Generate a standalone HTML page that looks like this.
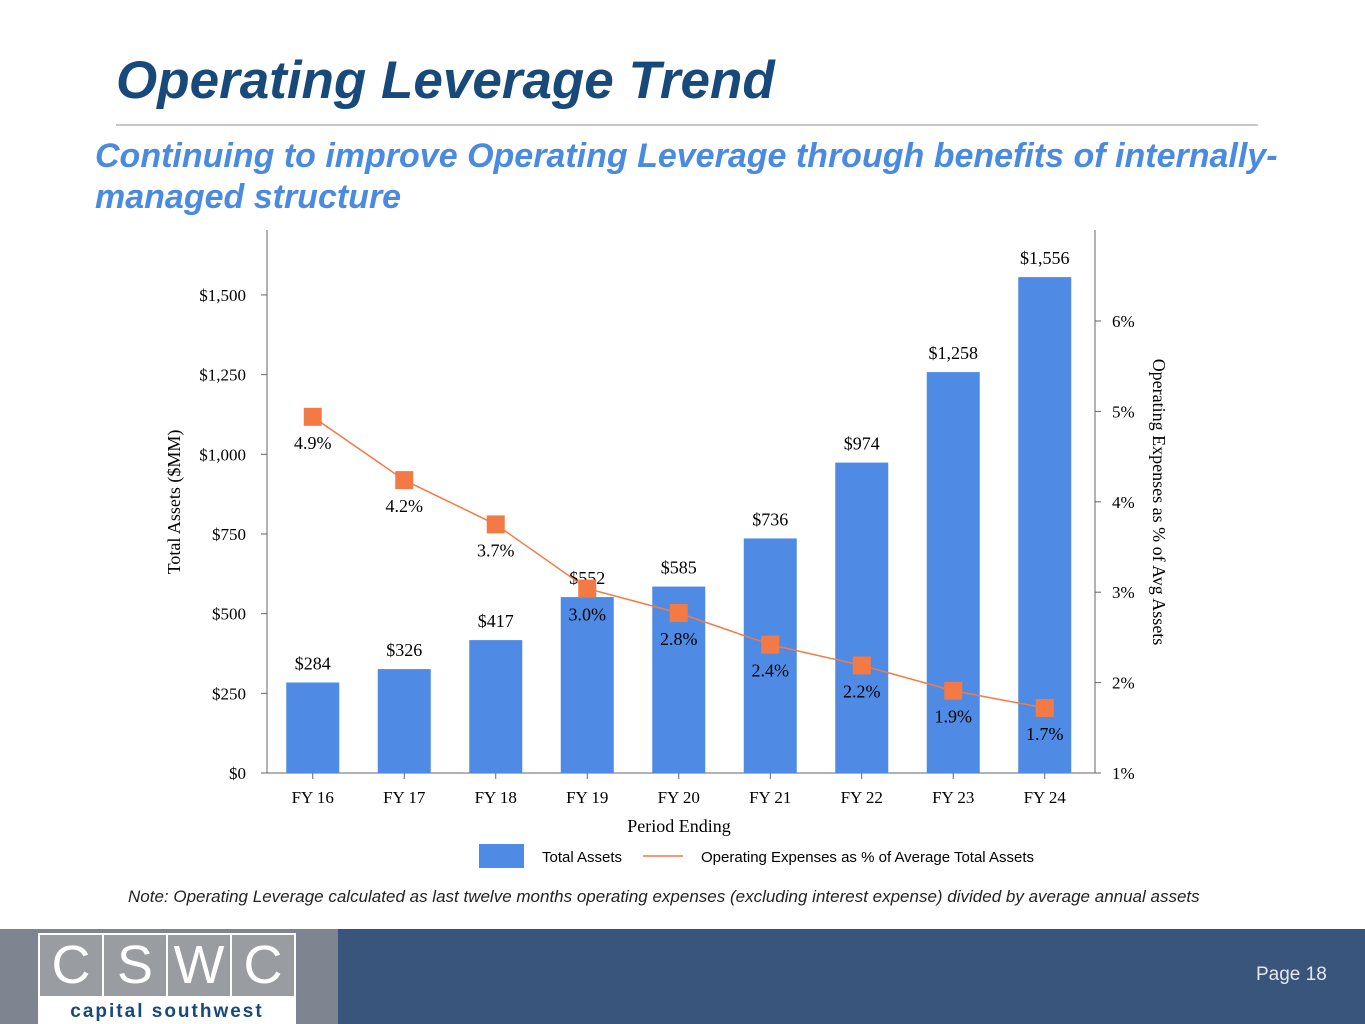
<!DOCTYPE html>
<html><head><meta charset="utf-8"><style>
body{margin:0;width:1365px;height:1024px;position:relative;background:#fff;overflow:hidden;font-family:"Liberation Sans",sans-serif}
.abs{position:absolute}
</style></head><body>
<div class="abs" style="left:116px;top:50px;font-size:53px;font-weight:bold;font-style:italic;color:#17497a">Operating Leverage Trend</div>
<div class="abs" style="left:116px;top:124px;width:1142px;height:2px;background:#c8c8c8"></div>
<div class="abs" style="left:95px;top:136px;font-size:34px;line-height:41px;font-weight:bold;font-style:italic;color:#4a8be0;white-space:nowrap">Continuing to improve Operating Leverage through benefits of internally-<br>managed structure</div>
<svg class="abs" style="left:0;top:0" width="1365" height="920" id="chart" font-family="Liberation Serif, serif"></svg>
<div class="abs" style="left:128px;top:887px;font-size:17px;font-style:italic;color:#222;white-space:nowrap">Note: Operating Leverage calculated as last twelve months operating expenses (excluding interest expense) divided by average annual assets</div>
<div class="abs" style="left:0;top:929px;width:338px;height:95px;background:#7f8590"></div>
<div class="abs" style="left:338px;top:929px;width:1027px;height:95px;background:#3a557c"></div>
<div class="abs" style="left:38px;top:933px;width:258px;height:91px;background:#fff">
 <div style="display:flex;gap:2px;padding:2px;height:61px">
  <div style="flex:1;background:#999ca1;color:#fff;font-size:54px;text-align:center;line-height:61px">C</div>
  <div style="flex:1;background:#999ca1;color:#fff;font-size:54px;text-align:center;line-height:61px">S</div>
  <div style="flex:1;background:#999ca1;color:#fff;font-size:54px;text-align:center;line-height:61px">W</div>
  <div style="flex:1;background:#999ca1;color:#fff;font-size:54px;text-align:center;line-height:61px">C</div>
 </div>
 <div style="text-align:center;color:#17497a;font-size:19px;letter-spacing:2px;font-weight:bold;margin-top:3px">capital southwest</div>
</div>
<div class="abs" style="left:1256px;top:964px;font-size:19px;color:#e4e8ee">Page 18</div>
<script>
const categories=["FY 16","FY 17","FY 18","FY 19","FY 20","FY 21","FY 22","FY 23","FY 24"];
const assets=[284,326,417,552,585,736,974,1258,1556];
const opexPct=[4.94,4.24,3.75,3.04,2.77,2.42,2.19,1.91,1.72];
const opexLabels=["4.9%","4.2%","3.7%","3.0%","2.8%","2.4%","2.2%","1.9%","1.7%"];
const leftTicks=[0,250,500,750,1000,1250,1500];
const rightTicks=[1,2,3,4,5,6];
const svg=document.getElementById('chart');const NS='http://www.w3.org/2000/svg';
const X0=267,BAND=91.5,Y0=773;
const yL=v=>Y0-v*0.3187, yR=v=>Y0-(v-1)*90.4, xc=i=>X0+BAND*(i+0.5);
function el(t,a,txt){const e=document.createElementNS(NS,t);for(const k in a)e.setAttribute(k,a[k]);if(txt!=null)e.textContent=txt;svg.appendChild(e);return e;}
let e;
e=el('line',{x1:X0,y1:230,x2:X0,y2:Y0,stroke:'#666'});
e=el('line',{x1:1095,y1:230,x2:1095,y2:Y0,stroke:'#666'});
e=el('line',{x1:X0,y1:Y0,x2:1095,y2:Y0,stroke:'#666'});
leftTicks.forEach(v=>{el('line',{x1:X0-6,y1:yL(v),x2:X0,y2:yL(v),stroke:'#666'});
e=el('text',{x:246,y:yL(v)+6,'text-anchor':'end','font-size':17},'$'+v.toLocaleString('en-US'));});
rightTicks.forEach(v=>{el('line',{x1:1095,y1:yR(v),x2:1101,y2:yR(v),stroke:'#666'});
e=el('text',{x:1112,y:yR(v)+6,'font-size':17},v+'%');});
categories.forEach((c,i)=>{
 el('line',{x1:xc(i),y1:Y0,x2:xc(i),y2:Y0+6,stroke:'#666'});
 e=el('text',{x:xc(i),y:803,'text-anchor':'middle','font-size':17},c);
 e=el('rect',{x:xc(i)-26.5,y:yL(assets[i]),width:53,height:Y0-yL(assets[i]),fill:'#4f8be4'});
 e=el('text',{x:xc(i),y:yL(assets[i])-13,'text-anchor':'middle','font-size':18},'$'+assets[i].toLocaleString('en-US'));
});
e=el('polyline',{points:opexPct.map((v,i)=>xc(i)+','+yR(v)).join(' '),fill:'none',stroke:'#f47a45','stroke-width':1.5});
opexPct.forEach((v,i)=>{
 e=el('rect',{x:xc(i)-9,y:yR(v)-9,width:18,height:18,fill:'#f47a45'});
 e=el('text',{x:xc(i),y:yR(v)+32,'text-anchor':'middle','font-size':18},opexLabels[i]);
});
e=el('text',{x:679,y:832,'text-anchor':'middle','font-size':18},'Period Ending');
e=el('text',{x:0,y:0,'text-anchor':'middle','font-size':18,transform:'translate(180,502) rotate(-90)'},'Total Assets ($MM)');
e=el('text',{x:0,y:0,'text-anchor':'middle','font-size':18,transform:'translate(1153,502) rotate(90)'},'Operating Expenses as % of Avg Assets');
e=el('rect',{x:479,y:844,width:45,height:24,fill:'#4f8be4'});
e=el('text',{x:542,y:862,'font-size':15,'font-family':'Liberation Sans, sans-serif'},'Total Assets');
e=el('line',{x1:643,y1:856,x2:683,y2:856,stroke:'#f47a45','stroke-width':1.5});
e=el('text',{x:701,y:862,'font-size':15,'font-family':'Liberation Sans, sans-serif'},'Operating Expenses as % of Average Total Assets');
</script>
</body></html>
